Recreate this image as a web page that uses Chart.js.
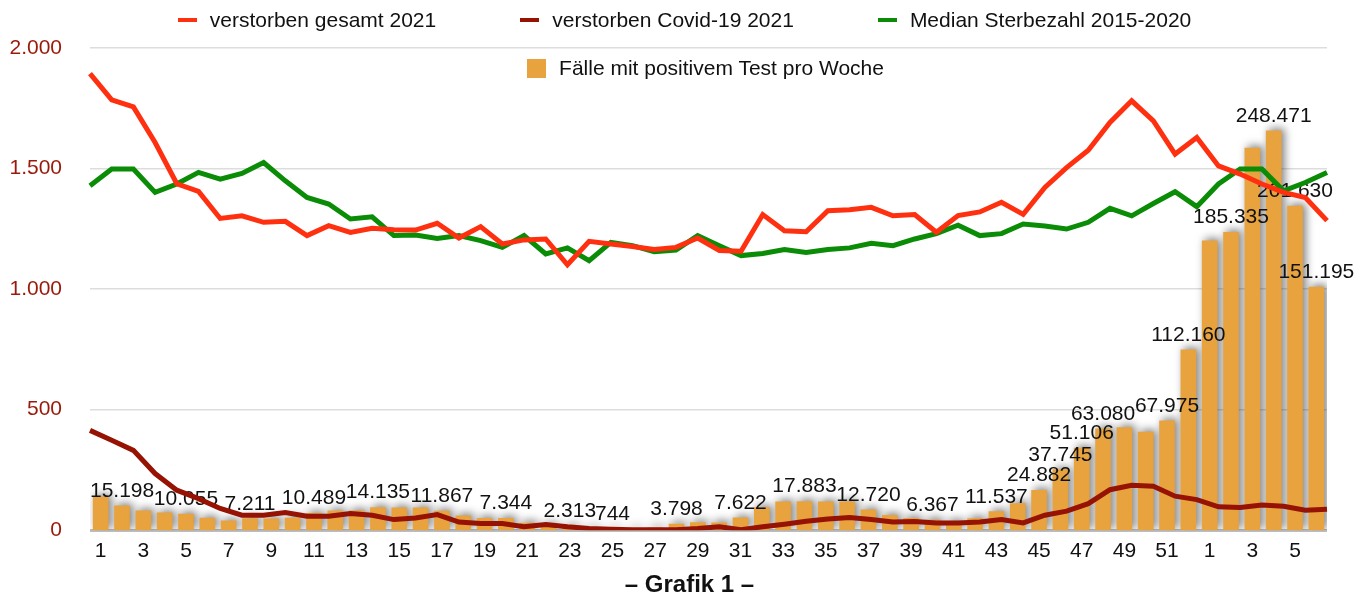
<!DOCTYPE html>
<html lang="de">
<head>
<meta charset="utf-8">
<title>Grafik 1</title>
<script src="https://cdn.jsdelivr.net/npm/chart.js@4.4.1/dist/chart.umd.min.js"></script>
<style>
  html, body { margin: 0; padding: 0; background: #fff; }
  #wrap { position: relative; width: 1369px; height: 597px; font-family: "Liberation Sans", Arial, sans-serif; }
  #chart { position: absolute; left: 0; top: 0; }
  .legendRow { position: absolute; left: 0; width: 1369px; display: flex; justify-content: center; font-size: 21px; line-height: 24px; color: #111; pointer-events: none; }
  #legendRow1 { top: 8px; }
  #legendRow2 { top: 56px; padding-left: 42px; box-sizing: border-box; }
  .legendItem { display: flex; align-items: center; margin: 0 42px; white-space: nowrap; }
  .legendLine { width: 19px; height: 4px; margin-right: 13px; }
  .legendBox { width: 19px; height: 19px; margin-right: 13px; }
</style>
</head>
<body>
<div id="wrap">
  <canvas id="chart" width="1369" height="597"></canvas>
  <div class="legendRow" id="legendRow1"></div>
  <div class="legendRow" id="legendRow2"></div>
</div>
<script>
// Kalenderwochen 2021 (1-52) und 2022 (1-6)
const weeks = [
  "1","2","3","4","5","6","7","8","9","10",
  "11","12","13","14","15","16","17","18","19","20",
  "21","22","23","24","25","26","27","28","29","30",
  "31","32","33","34","35","36","37","38","39","40",
  "41","42","43","44","45","46","47","48","49","50",
  "51","52","1","2","3","4","5","6"
];

const deathsTotal = [
  1894, 1785, 1756, 1608, 1437, 1405, 1293, 1304, 1277, 1281,
  1222, 1263, 1235, 1252, 1246, 1245, 1273, 1212, 1259, 1187,
  1204, 1208, 1101, 1198, 1187, 1177, 1164, 1173, 1212, 1160,
  1157, 1309, 1242, 1238, 1325, 1329, 1339, 1304, 1309, 1236,
  1305, 1320, 1360, 1310, 1422, 1504, 1576, 1691, 1781, 1698,
  1560, 1629, 1511, 1477, 1436, 1401, 1380, 1284
];

const deathsCovid = [
  414, 373, 331, 235, 166, 131, 90, 62, 62, 73,
  58, 58, 69, 62, 44, 51, 65, 34, 28, 28,
  14, 24, 14, 7, 4, 2, 2, 2, 7, 14,
  2, 14, 25, 37, 46, 53, 44, 34, 36, 30,
  30, 34, 44, 30, 62, 79, 110, 168, 186, 182,
  141, 127, 97, 94, 104, 99, 83, 87
];

const medianDeaths = [
  1429, 1498, 1498, 1401, 1436, 1484, 1456, 1480, 1525, 1449,
  1380, 1353, 1291, 1300, 1222, 1224, 1210, 1222, 1201, 1173,
  1222, 1146, 1171, 1118, 1194, 1180, 1155, 1162, 1222, 1180,
  1139, 1148, 1164, 1152, 1164, 1171, 1190, 1180, 1208, 1230,
  1265, 1222, 1230, 1270, 1262, 1249, 1277, 1335, 1304, 1355,
  1404, 1342, 1436, 1498, 1498, 1408, 1442, 1484
];

const positiveCases = [
  20700, 15198, 12000, 10800, 10055, 7500, 5800, 7211, 7000, 7600,
  10489, 12000, 12000, 14135, 13900, 13900, 11867, 9000, 7400, 7344,
  4500, 3300, 2313, 1300, 744, 800, 1500, 3798, 4700, 4600,
  7622, 14100, 17600, 17883, 17600, 17600, 12720, 9300, 7400, 6367,
  5500, 7300, 11537, 16600, 24882, 37745, 51106, 63080, 63800, 61000,
  67975, 112160, 180100, 185335, 237800, 248471, 201630, 151195
];

// bars that carry a value label (index into weeks)
const labelledBars = [1, 4, 7, 10, 13, 16, 19, 22, 24, 27, 30, 33, 36, 39, 42, 44, 45, 46, 47, 50, 51, 53, 55, 56, 57];

const yTicks = [0, 500, 1000, 1500, 2000];

const RED = "#ff3010";
const DARKRED = "#961203";
const GREEN = "#0a8c07";
const ORANGE = "#e8a33e";
const FONT = '"Liberation Sans", Arial, sans-serif';

function formatDe(n){
  return String(Math.round(n)).replace(/\B(?=(\d{3})+(?!\d))/g, ".");
}

Chart.defaults.font.family = FONT;
Chart.defaults.font.size = 21;
Chart.defaults.color = "#111";

// shadow under the bars + value labels (drawn before the lines)
const barDecor = {
  id: "barDecor",
  beforeDatasetDraw(chart, args){
    if(args.meta.type !== "bar") return;
    const ctx = chart.ctx;
    ctx.save();
    ctx.shadowColor = "rgba(0,0,0,0.5)";
    ctx.shadowBlur = 8;
    ctx.shadowOffsetX = 3;
    ctx.shadowOffsetY = -2;
  },
  afterDatasetDraw(chart, args){
    if(args.meta.type !== "bar") return;
    const ctx = chart.ctx;
    ctx.restore();
    ctx.save();
    ctx.font = "21px " + FONT;
    ctx.fillStyle = "#111";
    ctx.textAlign = "center";
    ctx.textBaseline = "alphabetic";
    labelledBars.forEach(i => {
      const bar = args.meta.data[i];
      const text = formatDe(positiveCases[i]);
      const w = ctx.measureText(text).width;
      let x = bar.x;
      if(x - w / 2 < chart.chartArea.left) x = chart.chartArea.left + w / 2;
      ctx.fillText(text, x, bar.y - 9);
    });
    ctx.restore();
  }
};

const ctx = document.getElementById("chart").getContext("2d");
const chart = new Chart(ctx, {
  type: "bar",
  data: {
    labels: weeks,
    datasets: [
      {
        type: "line",
        label: "verstorben gesamt 2021",
        data: deathsTotal,
        borderColor: RED,
        backgroundColor: RED,
        borderWidth: 5,
        pointRadius: 0,
        tension: 0,
        xAxisID: "xLine",
        yAxisID: "y",
        order: 1
      },
      {
        type: "line",
        label: "verstorben Covid-19 2021",
        data: deathsCovid,
        borderColor: DARKRED,
        backgroundColor: DARKRED,
        borderWidth: 5,
        pointRadius: 0,
        tension: 0,
        xAxisID: "xLine",
        yAxisID: "y",
        order: 3
      },
      {
        type: "line",
        label: "Median Sterbezahl 2015-2020",
        data: medianDeaths,
        borderColor: GREEN,
        backgroundColor: GREEN,
        borderWidth: 5,
        pointRadius: 0,
        tension: 0,
        xAxisID: "xLine",
        yAxisID: "y",
        order: 2
      },
      {
        type: "bar",
        label: "Fälle mit positivem Test pro Woche",
        data: positiveCases,
        backgroundColor: ORANGE,
        barThickness: 15,
        grouped: false,
        xAxisID: "x",
        yAxisID: "yCases",
        order: 10
      }
    ]
  },
  options: {
    responsive: false,
    animation: false,
    layout: { padding: { left: 10, right: 0, top: 48, bottom: 0 } },
    plugins: {
      legend: { display: false },
      tooltip: { enabled: false },
      title: {
        display: true,
        position: "bottom",
        text: "– Grafik 1 –",
        color: "#111",
        font: { size: 24, weight: "bold" },
        padding: { top: 8, bottom: -3 }
      }
    },
    scales: {
      x: {
        type: "category",
        offset: true,
        grid: { display: false, drawTicks: false },
        border: { display: false },
        afterFit: axis => { axis.height = 33; },
        ticks: {
          autoSkip: false,
          maxRotation: 0,
          padding: 8,
          color: "#111",
          callback: (v, i) => i % 2 === 0 ? weeks[i] : ""
        }
      },
      xLine: {
        type: "category",
        labels: weeks,
        offset: false,
        display: false
      },
      y: {
        position: "left",
        min: 0,
        max: 2000,
        afterBuildTicks: axis => { axis.ticks = yTicks.map(v => ({ value: v })); },
        afterFit: axis => { axis.width = 80; },
        ticks: {
          padding: 28,
          color: "#991a0a",
          callback: v => formatDe(v)
        },
        grid: {
          drawTicks: false,
          color: c => c.tick && c.tick.value === 0 ? "#bdbdbd" : "#dddddd",
          lineWidth: c => c.tick && c.tick.value === 0 ? 3 : 1.5
        },
        border: { display: false }
      },
      yCases: {
        position: "right",
        min: 0,
        max: 300000,
        afterFit: axis => { axis.width = 42; },
        ticks: { display: false },
        grid: { display: false, drawTicks: false },
        border: { display: false }
      }
    }
  },
  plugins: [barDecor]
});

// legend built from the datasets: three lines in row 1, the bars in row 2
function buildLegend(){
  const row1 = document.getElementById("legendRow1");
  const row2 = document.getElementById("legendRow2");
  chart.data.datasets.forEach(ds => {
    const item = document.createElement("div");
    item.className = "legendItem";
    const mark = document.createElement("span");
    mark.className = ds.type === "bar" ? "legendBox" : "legendLine";
    mark.style.background = ds.type === "bar" ? ds.backgroundColor : ds.borderColor;
    const text = document.createElement("span");
    text.textContent = ds.label;
    item.appendChild(mark);
    item.appendChild(text);
    (ds.type === "bar" ? row2 : row1).appendChild(item);
  });
}
buildLegend();
</script>
</body>
</html>
